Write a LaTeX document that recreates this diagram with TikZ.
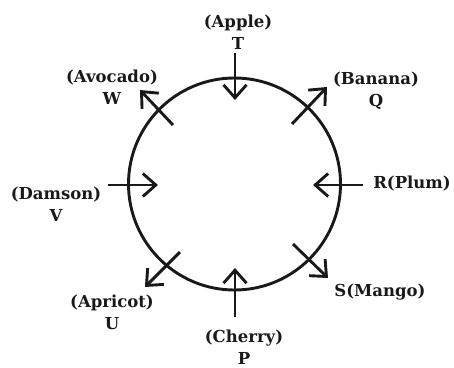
\documentclass[tikz,border=0pt]{standalone}
\usepackage{fontspec}
\setmainfont{DejaVu Serif}
\usetikzlibrary{arrows.meta}

\begin{document}
\begin{tikzpicture}[x=1pt, y=-1pt, line width=2.9pt, color={black!90},
    every node/.style={font=\bfseries\fontsize{16.5}{22}\selectfont, align=center, inner sep=0pt},
    pointer/.style={-{Straight Barb[length=13pt,width=23pt]}}]
            \useasboundingbox (0,0) rectangle (454,367);
            \coordinate (O) at (234.5,184);

            \coordinate (T1) at (235,53);
            \coordinate (T2) at (235,100);
            \coordinate (P1) at (235,317);
            \coordinate (P2) at (235,268);
            \coordinate (V1) at (108,185);
            \coordinate (V2) at (158,185);
            \coordinate (R1) at (363,185);
            \coordinate (R2) at (313,185);
            \coordinate (W1) at (173,125);
            \coordinate (W2) at (140,90);
            \coordinate (Q1) at (292,124);
            \coordinate (Q2) at (327,87);
            \coordinate (U1) at (180,252);
            \coordinate (U2) at (145,287);
            \coordinate (S1) at (293,244);
            \coordinate (S2) at (328,278);

            \draw (O) circle (106pt);

            \draw[pointer] (T1) -- (T2);
            \draw[pointer] (P1) -- (P2);
            \draw[pointer] (V1) -- (V2);
            \draw[pointer] (R1) -- (R2);
            \draw[pointer] (W1) -- (W2);
            \draw[pointer] (Q1) -- (Q2);
            \draw[pointer] (U1) -- (U2);
            \draw[pointer] (S1) -- (S2);

            \node (apple) at (238,32) {(Apple)\\T};
            \node (avocado) at (112,87) {(Avocado)\\W};
            \node (banana) at (376,91) {(Banana)\\Q};
            \node (damson) at (56,204) {(Damson)\\V};
            \node (plum) at (412,184) {R(Plum)};
            \node (apricot) at (112,312) {(Apricot)\\U};
            \node (mango) at (380,292) {S(Mango)};
            \node (cherry) at (244,347) {(Cherry)\\P};
        \end{tikzpicture}
\end{document}
